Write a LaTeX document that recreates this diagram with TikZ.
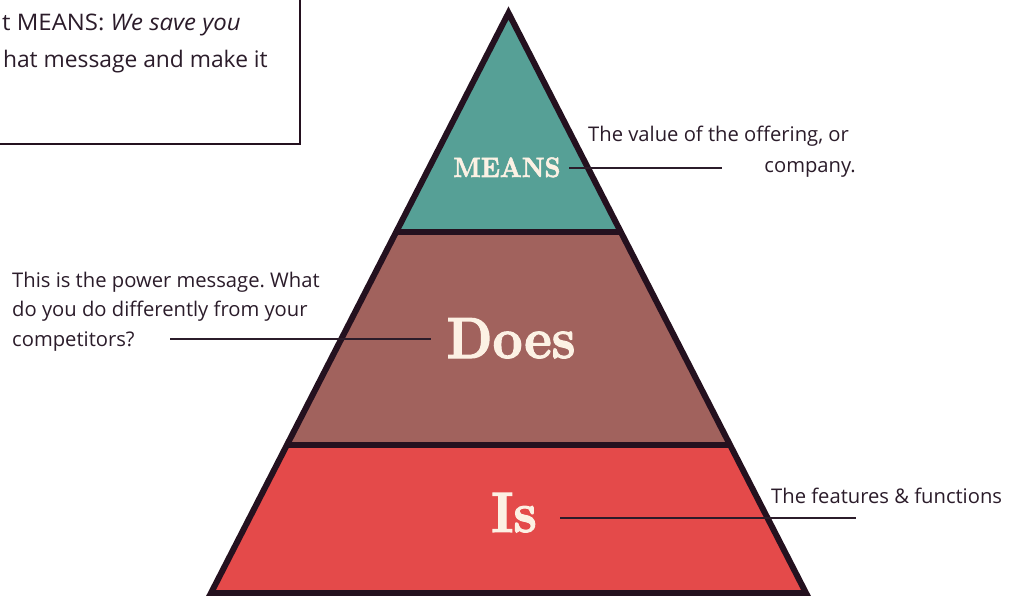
\documentclass[tikz,border=0pt]{standalone}
\usepackage{fontspec}
\setmainfont{Open Sans}
\newfontfamily\headfont{lmroman10-bold.otf}[FakeBold=2]
\usetikzlibrary{calc}

\definecolor{ink}{HTML}{24111F}
\definecolor{txt}{HTML}{2B1C2A}
\definecolor{meansfill}{HTML}{56A096}
\definecolor{doesfill}{HTML}{A1625D}
\definecolor{isfill}{HTML}{E44A4A}
\definecolor{cream}{HTML}{FCF1E4}

\frenchspacing
\begin{document}
\begin{tikzpicture}[x=1pt, y=-1pt, line join=miter,
    note/.style={inner sep=0pt, text=txt, font=\fontsize{20.2}{24}\selectfont},
    head/.style={inner sep=0pt, text=cream},
    leader/.style={draw=txt, line width=1.8pt}]

  % 钉死画布
  \path[use as bounding box] (0,0) rectangle (1019,596);
  \clip (0,0) rectangle (1019,596);

  % ── 金字塔：顶点、底角、两条分隔线端点 ──
  \coordinate (top) at (508.5,13);
  \coordinate (bl) at (211,593);
  \coordinate (br) at (806,593);
  \coordinate (l1) at ($(top)!0.3776!(bl)$);
  \coordinate (r1) at ($(top)!0.3776!(br)$);
  \coordinate (l2) at ($(top)!0.7448!(bl)$);
  \coordinate (r2) at ($(top)!0.7448!(br)$);

  \fill[meansfill] (top) -- (l1) -- (r1) -- cycle;
  \fill[doesfill] (l1) -- (l2) -- (r2) -- (r1) -- cycle;
  \fill[isfill] (l2) -- (bl) -- (br) -- (r2) -- cycle;
  \draw[ink, line width=6pt] (top) -- (bl) -- (br) -- cycle;
  \draw[ink, line width=6pt] (l1) -- (r1) (l2) -- (r2);

  % ── 三层标题 ──
  \node[head, anchor=base, font=\headfont\fontsize{28}{28}\selectfont] (meanslbl) at (507,177) {\scalebox{0.9}[1]{MEANS}};
  \node[head, anchor=base, font=\headfont\fontsize{58}{58}\selectfont] (doeslbl) at (511,358) {\scalebox{0.9}[1]{Does}};
  \node[head, anchor=base, font=\headfont\fontsize{57}{57}\selectfont] (islbl) at (514,532) {\scalebox{0.9}[1]{Is}};

  % ── 左上角的说明框（被画布裁掉一部分）──
  \draw[ink, line width=2pt] (-5,-5) rectangle (300,144);
  \node[note, anchor=base west, font=\fontsize{22.8}{26}\selectfont] (box1) at (2,31) {\scalebox{1.05}[1]{t MEANS: \textit{We save you}}};
  \node[note, anchor=base east, font=\fontsize{22.8}{26}\selectfont] (box2) at (268,68) {hat message and make it};

  % ── 旁注 ──
  \node[note, anchor=base west] (meansnote) at (588,142) {The value of the offering, or};
  \node[note, anchor=base east] (meansnote2) at (856,173) {company.};
  \node[note, anchor=base west] (doesnote) at (12,287) {This is the power message. What};
  \node[note, anchor=base west] (doesnote2) at (12,316) {do you do differently from your};
  \node[note, anchor=base west] (doesnote3) at (12,346) {competitors?};
  \node[note, anchor=base west] (isnote) at (771,503) {The features \& functions};

  % ── 引线 ──
  \coordinate (m1) at (569,168);  \coordinate (m2) at (722,168);
  \coordinate (d1) at (170,339);  \coordinate (d2) at (431,339);
  \coordinate (i1) at (560,518);  \coordinate (i2) at (856,518);
  \draw[leader] (m1) -- (m2);
  \draw[leader] (d1) -- (d2);
  \draw[leader] (i1) -- (i2);
\end{tikzpicture}
\end{document}
